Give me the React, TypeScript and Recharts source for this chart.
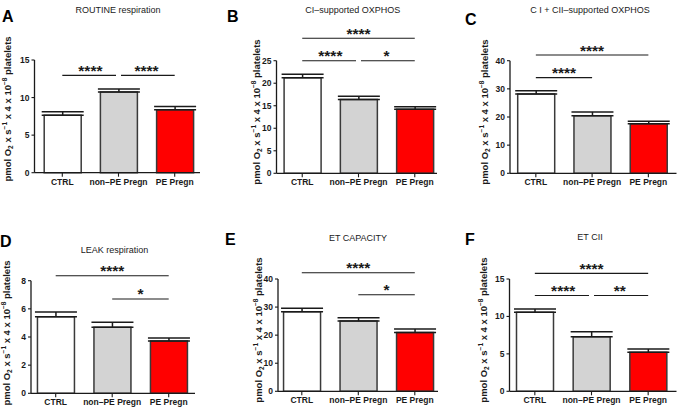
import React from 'react';
import { BarChart, Bar, XAxis, YAxis, ErrorBar, Cell, ReferenceLine } from 'recharts';

// ---------- data ----------
const groups = ['CTRL', 'non–PE Pregn', 'PE Pregn'];
const barColors = ['#ffffff', '#d3d3d3', '#ff0000'];

const routineMean = [7.66, 10.73, 8.37];
const routineSem = [0.44, 0.4, 0.44];
const routineTicks = [0, 5, 10, 15];

const ciMean = [21.2, 16.4, 14.2];
const ciSem = [0.8, 0.7, 0.6];
const ciTicks = [0, 5, 10, 15, 20, 25];

const ciiMean = [28.2, 20.4, 17.6];
const ciiSem = [1.1, 1.4, 0.9];
const ciiTicks = [0, 10, 20, 30, 40];

const leakMean = [5.44, 4.69, 3.71];
const leakSem = [0.33, 0.35, 0.22];
const leakTicks = [0, 2, 4, 6, 8];

const etMean = [28.3, 25.0, 20.9];
const etSem = [1.3, 1.2, 1.3];
const etTicks = [0, 10, 20, 30, 40];

const etciiMean = [10.55, 7.3, 5.2];
const etciiSem = [0.45, 0.66, 0.45];
const etciiTicks = [0, 5, 10, 15];

// significance brackets: [fromIndex, toIndex, yValue, stars]
const routineSig: [number, number, number, string][] = [[0, 1, 12.95, '****'], [1, 2, 12.95, '****']];
const ciSig: [number, number, number, string][] = [[0, 2, 30, '****'], [0, 1, 25, '****'], [1, 2, 25, '*']];
const ciiSig: [number, number, number, string][] = [[0, 2, 42, '****'], [0, 1, 34, '****']];
const leakSig: [number, number, number, string][] = [[0, 2, 8.35, '****'], [1, 2, 6.7, '*']];
const etSig: [number, number, number, string][] = [[0, 2, 42.2, '****'], [1, 2, 34.4, '*']];
const etciiSig: [number, number, number, string][] = [[0, 2, 15.75, '****'], [0, 1, 12.8, '****'], [1, 2, 12.8, '**']];

// ---------- layout ----------
const FONT = "'Liberation Sans', Arial, Helvetica, sans-serif";
const INK = '#1a1a1a';

type Panel = {
  letter: string;
  title: string;
  mean: number[];
  sem: number[];
  ticks: number[];
  sig: [number, number, number, string][];
  box: { left: number; top: number; width: number; height: number };
  margin: { top: number; right: number; bottom: number; left: number };
  pad: { left: number; right: number };
  letterPos: [number, number];
  titlePos: [number, number];
  ylabPos: [number, number];
};

const panels: Panel[] = [
  {
    letter: 'A', title: 'ROUTINE respiration', mean: routineMean, sem: routineSem, ticks: routineTicks, sig: routineSig,
    box: { left: 0, top: 0, width: 225, height: 200 },
    margin: { top: 60, right: 25, bottom: 12.3, left: 14.5 },
    pad: { left: -0.3, right: -2.8 },
    letterPos: [2, 21.7], titlePos: [118, 13.3], ylabPos: [7.5, 109],
  },
  {
    letter: 'B', title: 'CI–supported OXPHOS', mean: ciMean, sem: ciSem, ticks: ciTicks, sig: ciSig,
    box: { left: 225, top: 0, width: 225, height: 200 },
    margin: { top: 60.7, right: 13, bottom: 11.7, left: 31.5 },
    pad: { left: -2.4, right: -5.9 },
    letterPos: [227, 21.7], titlePos: [352.8, 13.3], ylabPos: [257, 112],
  },
  {
    letter: 'C', title: 'C I + CII–supported OXPHOS', mean: ciiMean, sem: ciiSem, ticks: ciiTicks, sig: ciiSig,
    box: { left: 450, top: 0, width: 228, height: 200 },
    margin: { top: 60.7, right: 1.5, bottom: 11.7, left: 40 },
    pad: { left: -2.3, right: 0 },
    letterPos: [465, 25], titlePos: [590, 13.3], ylabPos: [484.5, 112],
  },
  {
    letter: 'D', title: 'LEAK respiration', mean: leakMean, sem: leakSem, ticks: leakTicks, sig: leakSig,
    box: { left: 0, top: 200, width: 225, height: 210 },
    margin: { top: 80.7, right: 30, bottom: 1.7, left: 11 },
    pad: { left: -3.55, right: -1.95 },
    letterPos: [0, 247], titlePos: [114.5, 253.3], ylabPos: [6.5, 333],
  },
  {
    letter: 'E', title: 'ET CAPACITY', mean: etMean, sem: etSem, ticks: etTicks, sig: etSig,
    box: { left: 225, top: 200, width: 225, height: 210 },
    margin: { top: 79, right: 12, bottom: 3.7, left: 33 },
    pad: { left: -4.45, right: -5.05 },
    letterPos: [225, 245], titlePos: [358, 241], ylabPos: [258.5, 330],
  },
  {
    letter: 'F', title: 'ET CII', mean: etciiMean, sem: etciiSem, ticks: etciiTicks, sig: etciiSig,
    box: { left: 450, top: 200, width: 228, height: 210 },
    margin: { top: 79, right: 1.5, bottom: 3.7, left: 39.5 },
    pad: { left: -3, right: 0 },
    letterPos: [465, 245], titlePos: [590, 240], ylabPos: [483.5, 330],
  },
];

const starLabel = (text: string) => (props: any) => {
  const vb = props.viewBox || {};
  const cx = (vb.x || 0) + (vb.width || 0) / 2;
  return (
    <text x={cx} y={(vb.y || 0) + 0.5} textAnchor="middle" fontSize={15.5} fontWeight="bold" fill={INK} fontFamily={FONT}>
      {text}
    </text>
  );
};

const bracketShape = (trimStart: number, trimEnd: number) => (p: any) => (
  <line x1={p.x1 + trimStart} y1={p.y1} x2={p.x2 - trimEnd} y2={p.y2} stroke={INK} strokeWidth={1.1} />
);

function PanelChart({ panel }: { panel: Panel }) {
  const data = groups.map((g, i) => ({ name: g, value: panel.mean[i], err: [0, panel.sem[i]] }));
  const yMax = panel.ticks[panel.ticks.length - 1];
  const tickStyle = { fontSize: 8.5, fontWeight: 'bold' as const, fill: INK, fontFamily: FONT };
  return (
    <div style={{ position: 'absolute', left: panel.box.left, top: panel.box.top }}>
      <BarChart width={panel.box.width} height={panel.box.height} data={data} margin={panel.margin}>
        <XAxis
          dataKey="name"
          interval={0}
          height={15}
          tickSize={4}
          tickMargin={2}
          padding={panel.pad}
          tick={tickStyle}
          axisLine={{ stroke: INK, strokeWidth: 1.3 }}
          tickLine={{ stroke: INK, strokeWidth: 1.1 }}
        />
        <YAxis
          width={20}
          domain={[0, yMax]}
          ticks={panel.ticks}
          interval={0}
          tickSize={3}
          tickMargin={2}
          tick={tickStyle}
          axisLine={{ stroke: INK, strokeWidth: 1.3 }}
          tickLine={{ stroke: INK, strokeWidth: 1.1 }}
        />
        <Bar dataKey="value" barSize={37} stroke="#3a3a3a" strokeWidth={1.5} isAnimationActive={false}>
          {data.map((d, i) => (
            <Cell key={d.name} fill={barColors[i]} />
          ))}
          <ErrorBar dataKey="err" width={21} stroke={INK} strokeWidth={1.5} isAnimationActive={false} />
        </Bar>
        {panel.sig.map(([a, b, y, s], k) => {
          const sharedStart = panel.sig.some(([a2, b2, y2], k2) => k2 !== k && y2 === y && b2 === a);
          const sharedEnd = panel.sig.some(([a2, b2, y2], k2) => k2 !== k && y2 === y && a2 === b);
          return (
            <ReferenceLine
              key={k}
              segment={[{ x: groups[a], y }, { x: groups[b], y }]}
              ifOverflow="visible"
              stroke={INK}
              shape={bracketShape(sharedStart ? 2.5 : 0, sharedEnd ? 2.5 : 0)}
              label={starLabel(s)}
            />
          );
        })}
      </BarChart>
    </div>
  );
}

function YLabel({ x, y }: { x: number; y: number }) {
  const bx = x + 3;
  return (
    <text
      x={bx}
      y={y}
      transform={`rotate(-90, ${bx}, ${y})`}
      textAnchor="middle"
      fontSize={9.5}
      fontWeight="bold"
      fill={INK}
      fontFamily={FONT}
    >
      <tspan>pmol O</tspan>
      <tspan fontSize={6.5} dy={2.2}>2</tspan>
      <tspan dy={-2.2}> x s</tspan>
      <tspan fontSize={6.5} dy={-3.8}>−1</tspan>
      <tspan dy={3.8}> x 4 x 10</tspan>
      <tspan fontSize={6.5} dy={-3.8}>−8</tspan>
      <tspan dy={3.8}> platelets</tspan>
    </text>
  );
}

export default function App() {
  return (
    <div style={{ position: 'absolute', left: 0, top: 0, width: 678, height: 410, background: '#fff', overflow: 'hidden' }}>
      {panels.map((p) => (
        <PanelChart key={p.letter} panel={p} />
      ))}
      <svg width={678} height={410} style={{ position: 'absolute', left: 0, top: 0, pointerEvents: 'none' }}>
        {panels.map((p) => (
          <g key={p.letter}>
            <text x={p.letterPos[0]} y={p.letterPos[1]} fontSize={16} fontWeight="bold" fill="#000" fontFamily={FONT}>
              {p.letter}
            </text>
            <text x={p.titlePos[0]} y={p.titlePos[1]} fontSize={9} textAnchor="middle" fill={INK} fontFamily={FONT}>
              {p.title}
            </text>
            <YLabel x={p.ylabPos[0]} y={p.ylabPos[1]} />
          </g>
        ))}
      </svg>
    </div>
  );
}
